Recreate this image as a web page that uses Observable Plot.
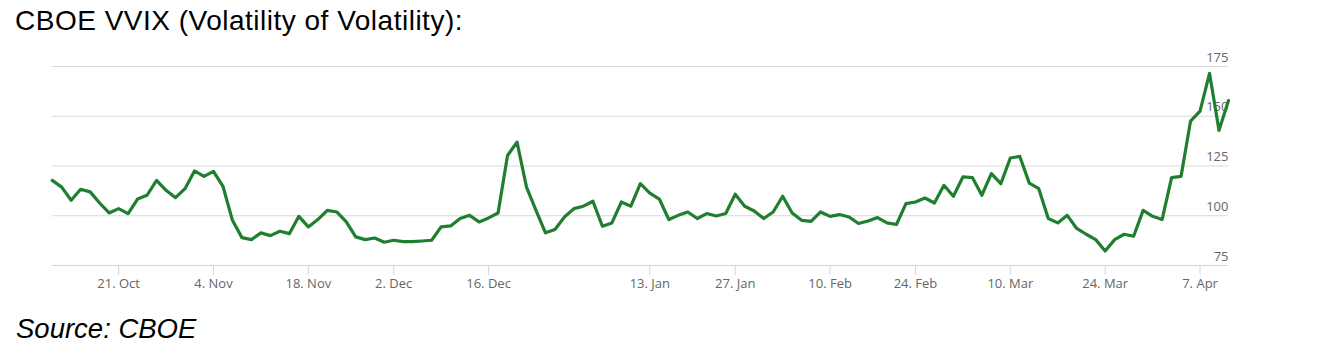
<!DOCTYPE html>
<html>
<head>
<meta charset="utf-8">
<script src="https://cdn.jsdelivr.net/npm/d3@7"></script>
<script src="https://cdn.jsdelivr.net/npm/@observablehq/plot@0.6"></script>
<style>
  html, body { margin: 0; padding: 0; background: #fff; }
  #wrap { position: relative; width: 1318px; height: 356px; overflow: hidden; }
  #title { position: absolute; left: 15px; top: 5px; font-family: "Liberation Sans", Arial, sans-serif; font-size: 28px; letter-spacing: 0.5px; color: #000; white-space: nowrap; }
  #caption { position: absolute; left: 16px; top: 313px; font-family: "Liberation Sans", Arial, sans-serif; font-size: 27.5px; font-style: italic; color: #000; white-space: nowrap; }
  #chart { position: absolute; left: 0; top: 44px; }
</style>
</head>
<body>
<div id="wrap">
  <div id="title">CBOE VVIX (Volatility of Volatility):</div>
  <div id="chart"></div>
  <div id="caption">Source: CBOE</div>
</div>
<script>
// Trading calendar (categories)
const startDate = "2024-10-10";
const endDate = "2025-04-10";
const holidays = ["2024-11-28", "2024-12-25", "2025-01-01", "2025-01-09", "2025-01-20", "2025-02-17"];

// Tick labels
const tickDates = ["2024-10-21", "2024-11-04", "2024-11-18", "2024-12-02", "2024-12-16", "2025-01-13",
                   "2025-01-27", "2025-02-10", "2025-02-24", "2025-03-10", "2025-03-24", "2025-04-07"];
const tickLabels = ["21. Oct", "4. Nov", "18. Nov", "2. Dec", "16. Dec", "13. Jan",
                    "27. Jan", "10. Feb", "24. Feb", "10. Mar", "24. Mar", "7. Apr"];
const yTicks = [75, 100, 125, 150, 175];

// VVIX daily closes
const vvix = [
  117.8, 114.4, 107.8, 113.3, 112.0, 106.4, 101.4, 103.6, 101.1, 108.4,
  110.3, 117.8, 112.8, 109.1, 113.6, 122.5, 119.8, 122.3, 114.8, 97.7,
  89.0, 88.0, 91.4, 90.0, 92.2, 91.0, 99.7, 94.4, 98.1, 102.7,
  101.9, 96.9, 89.4, 88.0, 88.8, 86.7, 87.7, 87.0, 87.0, 87.3,
  87.7, 94.4, 94.9, 98.6, 100.2, 96.9, 98.9, 101.4, 130.3, 137.0,
  114.4, 102.7, 91.4, 93.1, 99.4, 103.6, 104.8, 107.3, 94.7, 96.4,
  106.9, 104.8, 116.1, 111.4, 108.4, 98.1, 100.2, 101.9, 98.6, 101.1,
  99.9, 101.1, 110.8, 104.8, 102.4, 98.6, 101.9, 109.8, 101.4, 97.7,
  97.2, 101.9, 99.7, 100.6, 99.4, 96.1, 97.4, 99.1, 96.4, 95.6,
  106.1, 106.9, 108.9, 106.4, 115.3, 109.8, 119.5, 119.2, 110.3, 121.2,
  116.1, 129.0, 129.8, 116.4, 113.6, 98.6, 96.4, 100.2, 93.6, 90.7,
  88.0, 82.3, 88.0, 90.7, 89.7, 102.7, 99.7, 98.1, 119.2, 119.8,
  147.6, 152.6, 171.6, 142.9, 157.9
];

const fmt = d3.utcFormat("%Y-%m-%d");
const holidaySet = new Set(holidays);
const days = d3.utcDay.range(new Date(startDate), d3.utcDay.offset(new Date(endDate), 1))
  .filter(d => d.getUTCDay() !== 0 && d.getUTCDay() !== 6 && !holidaySet.has(fmt(d)))
  .map(fmt);

const data = vvix.map((v, i) => ({i, date: days[i], value: v}));
const tickIndex = tickDates.map(t => days.indexOf(t));
const labelOf = new Map(tickIndex.map((k, j) => [k, tickLabels[j]]));

const chart = Plot.plot({
  width: 1318,
  height: 262,
  marginLeft: 51.7,
  marginRight: 90,
  marginTop: 22,
  marginBottom: 41,
  style: {fontFamily: "'Open Sans', sans-serif", fontSize: "13px", color: "#666", background: "transparent"},
  x: {type: "linear", domain: [0, vvix.length - 1]},
  y: {domain: [75, 175]},
  marks: [
    Plot.ruleY(yTicks.filter(t => t > 75), {stroke: "#d9d9d9", strokeWidth: 1}),
    Plot.ruleY([75], {stroke: "#ccd6eb", strokeWidth: 1}),
    Plot.axisX({ticks: tickIndex, tickFormat: k => labelOf.get(k), tickSize: 10, tickPadding: 3,
                stroke: "#ccd6eb", strokeOpacity: 1, fill: "#666", label: null, fontSize: 13}),
    Plot.axisY({ticks: yTicks, anchor: "right", tickSize: 0, tickPadding: 0, textAnchor: "end",
                dx: 0, dy: -9, fill: "#666", label: null, fontSize: 13}),
    Plot.line(data, {x: "i", y: "value", stroke: "#1f7f2f", strokeWidth: 3.2, strokeLinejoin: "round", strokeLinecap: "round"})
  ]
});
document.getElementById("chart").appendChild(chart);
</script>
</body>
</html>
